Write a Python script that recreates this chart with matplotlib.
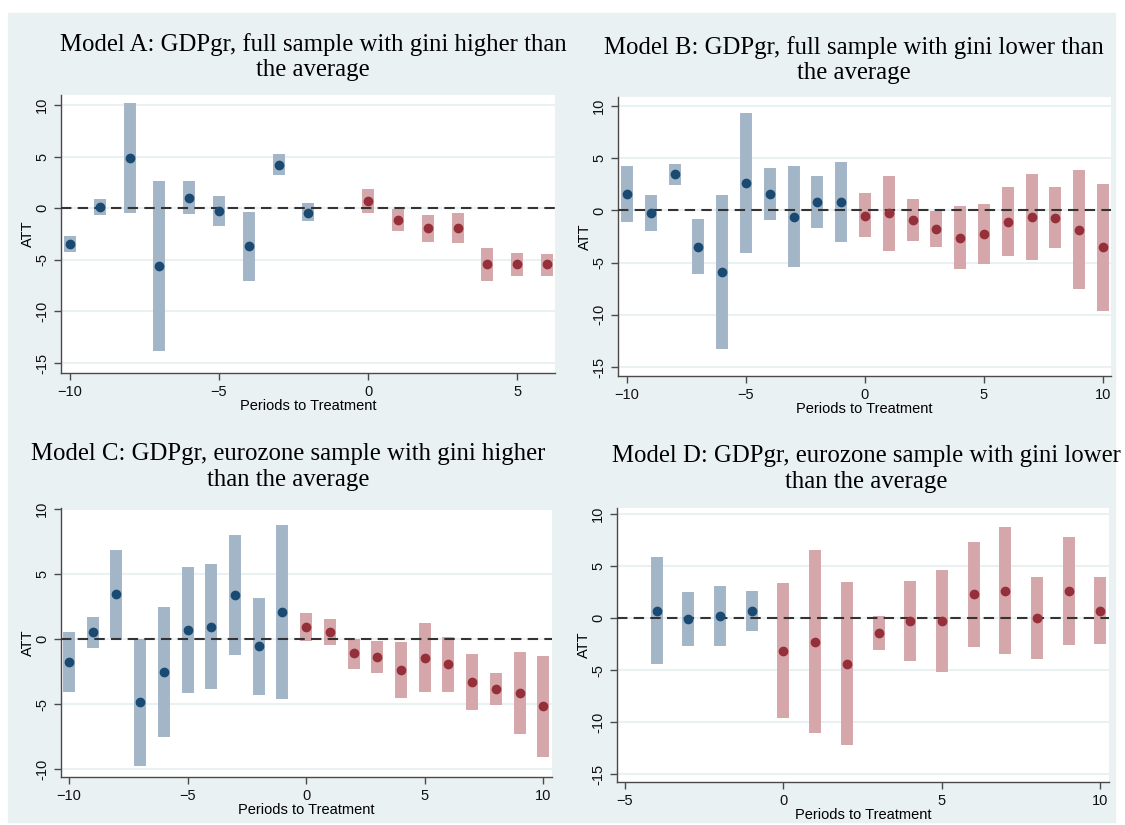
import matplotlib.pyplot as plt
from matplotlib.patches import Rectangle

# Model A: full sample, gini higher than average
a_period = [-10, -9, -8, -7, -6, -5, -4, -3, -2, 0, 1, 2, 3, 4, 5, 6]
a_att = [-3.48, 0.13, 4.9, -5.6, 1.03, -0.29, -3.71, 4.23, -0.42, 0.74, -1.16, -1.94, -1.9, -5.45, -5.45, -5.45]
a_lo = [-4.26, -0.65, -0.42, -13.8, -0.58, -1.71, -7.1, 3.19, -1.26, -0.42, -2.23, -3.26, -3.39, -7.06, -6.55, -6.55]
a_hi = [-2.74, 0.87, 10.16, 2.65, 2.65, 1.19, -0.35, 5.23, 0.48, 1.87, -0.06, -0.68, -0.48, -3.84, -4.35, -4.42]

# Model B: full sample, gini lower than average
b_period = list(range(-10, 11))
b_att = [1.57, -0.22, 3.45, -3.48, -5.94, 2.59, 1.53, -0.61, 0.83, 0.83,
         -0.51, -0.29, -0.89, -1.82, -2.62, -2.3, -1.09, -0.64, -0.7, -1.85, -3.51]
b_lo = [-1.15, -1.95, 2.4, -6.07, -13.3, -4.12, -0.96, -5.43, -1.66, -3.0,
        -2.59, -3.93, -2.91, -3.51, -5.62, -5.18, -4.41, -4.76, -3.64, -7.54, -9.62]
b_hi = [4.28, 1.5, 4.47, -0.86, 1.47, 9.3, 4.03, 4.25, 3.32, 4.66,
        1.63, 3.32, 1.12, -0.1, 0.38, 0.61, 2.27, 3.51, 2.27, 3.83, 2.56]

# Model C: eurozone sample, gini higher than average
c_period = list(range(-10, 11))
c_att = [-1.77, 0.51, 3.44, -4.87, -2.51, 0.67, 0.97, 3.36, -0.56, 2.08,
         0.95, 0.54, -1.1, -1.36, -2.38, -1.44, -1.95, -3.31, -3.87, -4.13, -5.18]
c_lo = [-4.05, -0.69, 0.05, -9.77, -7.56, -4.18, -3.82, -1.23, -4.31, -4.59,
        -0.13, -0.46, -2.26, -2.59, -4.54, -4.08, -4.05, -5.46, -5.1, -7.31, -9.05]
c_hi = [0.54, 1.72, 6.82, 0.0, 2.49, 5.51, 5.77, 7.97, 3.18, 8.77,
        2.03, 1.56, 0.0, -0.13, -0.23, 1.21, 0.18, -1.13, -2.64, -1.0, -1.31]

# Model D: eurozone sample, gini lower than average
d_period = list(range(-4, 11))
d_att = [0.71, -0.13, 0.22, 0.71, -3.14, -2.28, -4.39, -1.44, -0.32, -0.26, 2.31, 2.63, 0.0, 2.6, 0.71]
d_lo = [-4.42, -2.72, -2.66, -1.25, -9.65, -11.06, -12.18, -3.04, -4.13, -5.16, -2.76, -3.46, -3.97, -2.56, -2.53]
d_hi = [5.83, 2.5, 3.08, 2.63, 3.4, 6.51, 3.43, 0.16, 3.53, 4.65, 7.34, 8.72, 3.91, 7.76, 3.91]

titles = [
    "Model A: GDPgr, full sample with gini higher than\nthe average",
    "Model B: GDPgr, full sample with gini lower than\nthe average",
    "Model C: GDPgr, eurozone sample with gini higher\nthan the average",
    "Model D: GDPgr, eurozone sample with gini lower\nthan the average",
]

W, H = 1125, 825
bg = '#eaf1f3'
blue_bar, blue_pt = '#a3b6c8', '#1a4a72'
red_bar, red_pt = '#d5a7ab', '#952f39'

fig = plt.figure(figsize=(W / 100, H / 100), dpi=100, facecolor='white')
fig.patches.append(Rectangle((8 / W, 1 - 822 / H), 1107 / W, 809 / H,
                             transform=fig.transFigure, color=bg, zorder=-10))


def px_axes(left, top, right, bottom):
    return fig.add_axes([left / W, 1 - bottom / H, (right - left) / W, (bottom - top) / H])


panels = [
    (a_period, a_att, a_lo, a_hi, (61, 95, 555, 373), (-10.3, 6.27), (-15.97, 10.97),
     [-10, -5, 0, 5], [-15, -10, -5, 0, 5, 10]),
    (b_period, b_att, b_lo, b_hi, (618, 97, 1111, 376), (-10.38, 10.34), (-15.86, 10.86),
     [-10, -5, 0, 5, 10], [-15, -10, -5, 0, 5, 10]),
    (c_period, c_att, c_lo, c_hi, (61, 508, 552, 777), (-10.34, 10.37), (-10.6, 10.08),
     [-10, -5, 0, 5, 10], [-10, -5, 0, 5, 10]),
    (d_period, d_att, d_lo, d_hi, (617, 508, 1109, 782), (-5.25, 10.27), (-15.77, 10.58),
     [-5, 0, 5, 10], [-15, -10, -5, 0, 5, 10]),
]

for (per, att, lo, hi, box, xl, yl, xt, yt) in panels:
    ax = px_axes(*box)
    ax.set_facecolor('white')
    for yv in yt:
        ax.axhline(yv, color=bg, lw=1.5, zorder=0)
    pre = [i for i, p in enumerate(per) if p < 0]
    post = [i for i, p in enumerate(per) if p >= 0]
    for idx, bc, pc in [(pre, blue_bar, blue_pt), (post, red_bar, red_pt)]:
        ax.vlines([per[i] for i in idx], [lo[i] for i in idx], [hi[i] for i in idx],
                  colors=bc, lw=8.6, capstyle='butt', zorder=2)
        ax.plot([per[i] for i in idx], [att[i] for i in idx], 'o', color=pc, ms=6, zorder=4)
    ax.axhline(0, color='#333333', lw=1.5, ls=(0, (5, 3)), zorder=3)
    ax.set_xlim(*xl)
    ax.set_ylim(*yl)
    ax.set_xticks(xt)
    ax.set_yticks(yt)
    ax.set_yticklabels([str(v) for v in yt], rotation=90, va='center')
    for s in ['top', 'right']:
        ax.spines[s].set_visible(False)
    for s in ['left', 'bottom']:
        ax.spines[s].set_color('#4a4a4a')
        ax.spines[s].set_linewidth(1.0)
    ax.tick_params(colors='#4a4a4a', labelcolor='#111111', length=5, width=1.0, labelsize=10.5)
    for lab in ax.get_xticklabels() + ax.get_yticklabels():
        lab.set_family('Liberation Sans')
    ax.set_xlabel('Periods to Treatment', family='Liberation Sans', fontsize=10.5, labelpad=0)
    ax.set_ylabel('ATT', family='Liberation Sans', fontsize=10.5, labelpad=0)

title_pos = [(313, 57), (854, 60), (288, 467), (866, 469)]
for t, (x, y) in zip(titles, title_pos):
    fig.text(x / W, 1 - y / H, t, ha='center', va='center', multialignment='center',
             family='Liberation Serif', fontsize=17.8, linespacing=1.2)

plt.savefig('out.png', dpi=100, facecolor=fig.get_facecolor())
